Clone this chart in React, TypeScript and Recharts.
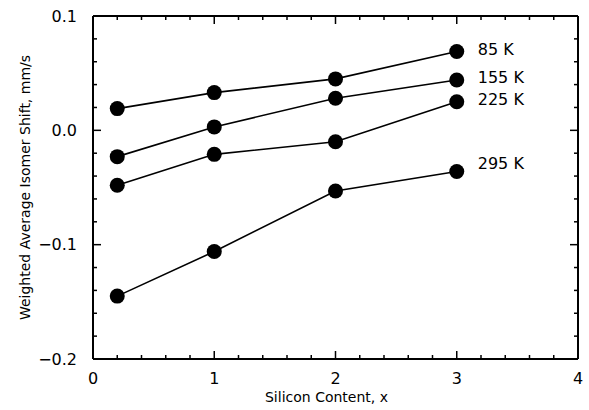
import { LineChart, Line, XAxis, YAxis, LabelList } from 'recharts'

const SILICON = [0.2, 1, 2, 3]
const SHIFT_85K = [0.019, 0.033, 0.045, 0.069]
const SHIFT_155K = [-0.023, 0.003, 0.028, 0.044]
const SHIFT_225K = [-0.048, -0.021, -0.01, 0.025]
const SHIFT_295K = [-0.145, -0.106, -0.053, -0.036]

const SERIES = [
  { key: 't85', name: '85 K', values: SHIFT_85K, dy: -2 },
  { key: 't155', name: '155 K', values: SHIFT_155K, dy: -3 },
  { key: 't225', name: '225 K', values: SHIFT_225K, dy: -2 },
  { key: 't295', name: '295 K', values: SHIFT_295K, dy: -8 },
]

const X_TICKS = [0, 0.2, 0.4, 0.6, 0.8, 1, 1.2, 1.4, 1.6, 1.8, 2, 2.2, 2.4, 2.6, 2.8, 3, 3.2, 3.4, 3.6, 3.8, 4]
const Y_TICKS = [-0.2, -0.18, -0.16, -0.14, -0.12, -0.1, -0.08, -0.06, -0.04, -0.02, 0, 0.02, 0.04, 0.06, 0.08, 0.1]

const data = SILICON.map((x, i) => {
  const row: Record<string, number> = { x }
  SERIES.forEach(s => { row[s.key] = s.values[i] })
  return row
})

const FONT = '"DejaVu Sans", sans-serif'
const MAJOR = 8
const MINOR = 4
const isMajorX = (v: number) => Math.abs(v - Math.round(v)) < 1e-6
const isMajorY = (v: number) => Math.abs(v * 10 - Math.round(v * 10)) < 1e-6
const fmtY = (v: number) => v.toFixed(1).replace('-', '\u2212')

// tick marks point into the plot, so they're drawn by hand
function BottomTick(props: any) {
  const { x, y, payload } = props
  const major = isMajorX(payload.value)
  return (
    <g>
      <path d={`M${x},${y}V${y - (major ? MAJOR : MINOR)}`} stroke="#000" strokeWidth={1.5} fill="none" />
      {major && (
        <text x={x} y={y + 19} textAnchor="middle" dominantBaseline="central" fontSize={16} fontFamily={FONT} fill="#000">
          {payload.value}
        </text>
      )}
    </g>
  )
}

function TopTick(props: any) {
  const { x, y, payload } = props
  const major = isMajorX(payload.value)
  return <path d={`M${x},${y}V${y + (major ? MAJOR : MINOR)}`} stroke="#000" strokeWidth={1.5} fill="none" />
}

function LeftTick(props: any) {
  const { x, y, payload } = props
  const major = isMajorY(payload.value)
  return (
    <g>
      <path d={`M${x},${y}H${x + (major ? MAJOR : MINOR)}`} stroke="#000" strokeWidth={1.5} fill="none" />
      {major && (
        <text x={x - 16} y={y} textAnchor="end" dominantBaseline="central" fontSize={16} fontFamily={FONT} fill="#000">
          {fmtY(payload.value)}
        </text>
      )}
    </g>
  )
}

function RightTick(props: any) {
  const { x, y, payload } = props
  const major = isMajorY(payload.value)
  return <path d={`M${x},${y}H${x - (major ? MAJOR : MINOR)}`} stroke="#000" strokeWidth={1.5} fill="none" />
}

export default function App() {
  return (
    <div style={{ width: 589, height: 410, background: '#fff' }}>
      <style>{'body { margin: 0; }'}</style>
      <LineChart width={589} height={410} data={data} margin={{ top: 15, right: 10, bottom: 0, left: 0 }}>
        <XAxis
          xAxisId="bottom"
          dataKey="x"
          type="number"
          domain={[0, 4]}
          allowDataOverflow
          ticks={X_TICKS}
          interval={0}
          height={51}
          tickSize={0}
          tickMargin={0}
          tickLine={false}
          axisLine={{ stroke: '#000', strokeWidth: 2 }}
          tick={(p: any) => <BottomTick {...p} />}
          label={({ viewBox }: any) => (
            <text
              x={viewBox.x + viewBox.width / 2 - 9}
              y={viewBox.y + 38}
              textAnchor="middle"
              dominantBaseline="central"
              fontSize={14}
              fontFamily={FONT}
              fill="#000"
            >
              Silicon Content, x
            </text>
          )}
        />
        <XAxis
          xAxisId="top"
          orientation="top"
          dataKey="x"
          type="number"
          domain={[0, 4]}
          allowDataOverflow
          ticks={X_TICKS}
          interval={0}
          height={1}
          tickSize={0}
          tickMargin={0}
          tickLine={false}
          axisLine={{ stroke: '#000', strokeWidth: 2 }}
          tick={(p: any) => <TopTick {...p} />}
        />
        <YAxis
          yAxisId="left"
          type="number"
          domain={[-0.2, 0.1]}
          allowDataOverflow
          ticks={Y_TICKS}
          interval={0}
          width={93}
          tickSize={0}
          tickMargin={0}
          tickLine={false}
          axisLine={{ stroke: '#000', strokeWidth: 2 }}
          tick={(p: any) => <LeftTick {...p} />}
          label={({ viewBox }: any) => {
            const cx = viewBox.x + 25
            const cy = viewBox.y + viewBox.height / 2
            return (
              <text
                x={cx}
                y={cy}
                transform={`rotate(-90 ${cx} ${cy})`}
                textAnchor="middle"
                dominantBaseline="central"
                fontSize={14}
                fontFamily={FONT}
                fill="#000"
              >
                Weighted Average Isomer Shift, mm/s
              </text>
            )
          }}
        />
        <YAxis
          yAxisId="right"
          orientation="right"
          type="number"
          domain={[-0.2, 0.1]}
          allowDataOverflow
          ticks={Y_TICKS}
          interval={0}
          width={1}
          tickSize={0}
          tickMargin={0}
          tickLine={false}
          axisLine={{ stroke: '#000', strokeWidth: 2 }}
          tick={(p: any) => <RightTick {...p} />}
        />
        {SERIES.map(s => (
          <Line
            key={s.key}
            xAxisId="bottom"
            yAxisId="left"
            dataKey={s.key}
            stroke="#000"
            strokeWidth={1.6}
            dot={{ r: 7.5, fill: '#000', stroke: '#000', strokeWidth: 0 }}
            activeDot={false}
            isAnimationActive={false}
          >
            <LabelList
              dataKey={s.key}
              content={(p: any) =>
                p.index === SILICON.length - 1 ? (
                  <text
                    x={p.x + 21}
                    y={p.y + s.dy}
                    dominantBaseline="central"
                    fontSize={16}
                    fontFamily={FONT}
                    fill="#000"
                  >
                    {s.name}
                  </text>
                ) : null
              }
            />
          </Line>
        ))}
      </LineChart>
    </div>
  )
}
